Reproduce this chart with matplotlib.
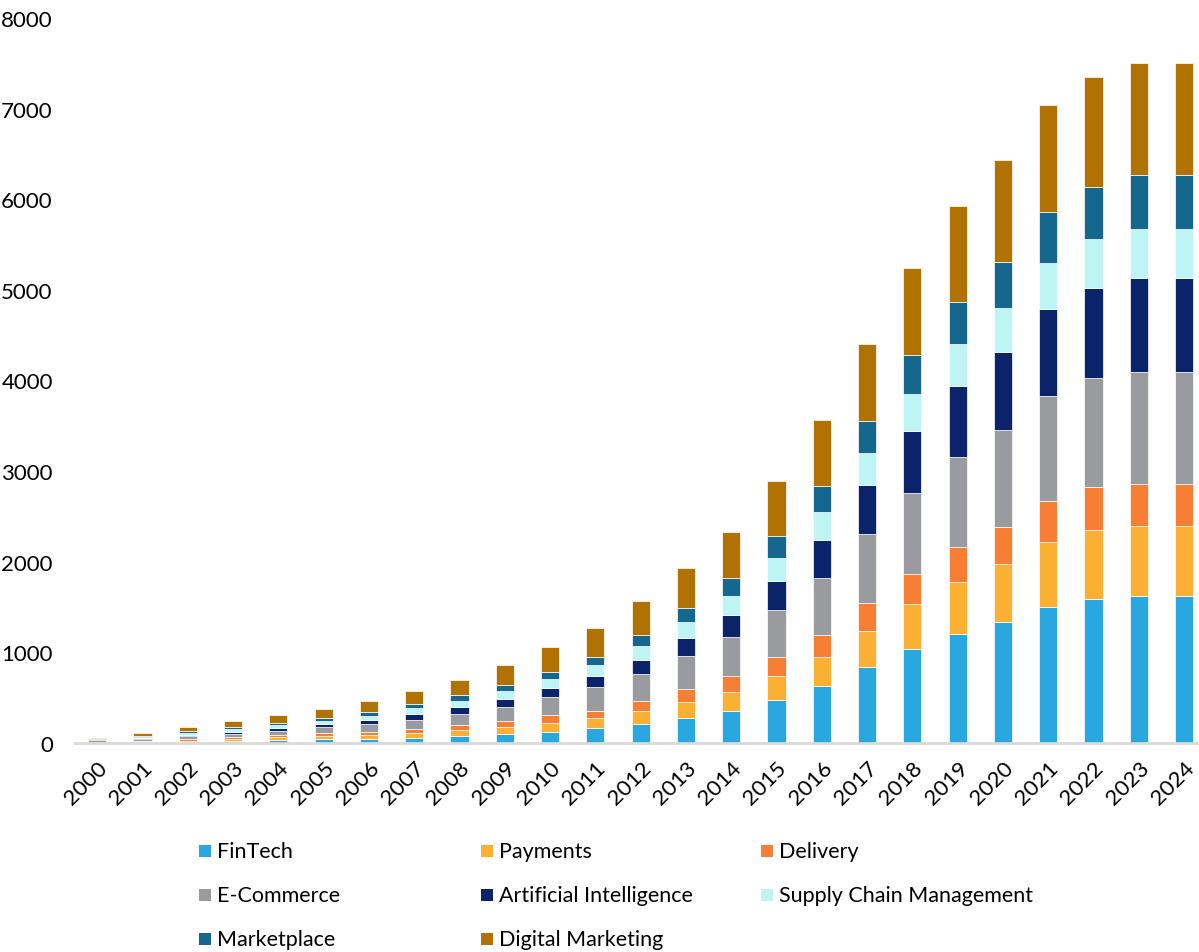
import matplotlib
matplotlib.use("Agg")
import matplotlib.pyplot as plt
from matplotlib.patches import Rectangle
import numpy as np

years = [str(y) for y in range(2000, 2025)]

fintech = [5, 8, 12, 22, 33, 40, 48, 59, 77, 99, 125, 162, 209, 281, 352, 474, 628, 842, 1040, 1208, 1334, 1497, 1593, 1624, 1624]
payments = [5, 10, 15, 22, 29, 33, 37, 51, 67, 81, 99, 118, 143, 169, 209, 265, 320, 399, 492, 568, 640, 720, 756, 771, 771]
delivery = [3, 8, 16, 18, 22, 33, 36, 41, 55, 63, 85, 70, 110, 143, 174, 213, 241, 300, 335, 385, 411, 457, 477, 467, 467]
ecommerce = [15, 22, 33, 40, 48, 66, 89, 107, 125, 158, 203, 268, 301, 367, 431, 514, 628, 762, 893, 995, 1065, 1157, 1198, 1233, 1233]
ai = [4, 11, 14, 22, 29, 33, 40, 62, 70, 88, 95, 118, 158, 198, 245, 320, 427, 542, 680, 781, 863, 954, 999, 1040, 1040]
scm = [6, 11, 20, 33, 37, 37, 52, 63, 73, 81, 103, 121, 146, 173, 209, 257, 304, 355, 416, 467, 482, 512, 533, 538, 538]
marketplace = [8, 11, 18, 18, 22, 37, 40, 51, 59, 67, 78, 92, 130, 159, 205, 237, 293, 352, 426, 467, 517, 558, 584, 593, 593]
digital_marketing = [13, 29, 52, 63, 85, 99, 118, 144, 173, 220, 272, 321, 375, 446, 506, 616, 719, 853, 959, 1050, 1122, 1183, 1207, 1234, 1234]

series_names = ["FinTech", "Payments", "Delivery", "E-Commerce", "Artificial Intelligence",
                "Supply Chain Management", "Marketplace", "Digital Marketing"]
series_values = [fintech, payments, delivery, ecommerce, ai, scm, marketplace, digital_marketing]
colors = ["#29A8E0", "#FBB034", "#F77F35", "#999B9E", "#0A2369", "#BFF4F4", "#15678D", "#B07203"]

W, H = 1199, 953
fig = plt.figure(figsize=(W / 100, H / 100), dpi=100)
plt.rcParams['font.family'] = ['Lato', 'DejaVu Sans']

ax = fig.add_axes([75 / W, 1 - 744 / H, 1 - 75 / W, (744 - 19) / H])
x = np.arange(len(years))
bottom = np.zeros(len(years))
for name, vals, c in zip(series_names, series_values, colors):
    v = np.array(vals, dtype=float)
    ax.bar(x, v, 0.4, bottom=bottom, color=c, edgecolor="white", linewidth=0.5, label=name)
    bottom += v

ax.set_xlim(-0.49, 24.33)
ax.set_ylim(0, 8000)
ax.set_yticks(np.arange(0, 8001, 1000))
ax.set_yticklabels([str(v) for v in range(0, 8001, 1000)], fontsize=16)
ax.set_xticks(x)
ax.set_xticklabels(years, fontsize=16, rotation=45, ha="right", va="top", rotation_mode="anchor")
for s in ["top", "right", "left"]:
    ax.spines[s].set_visible(False)
ax.spines["bottom"].set_color("#D9D9D9")
ax.spines["bottom"].set_linewidth(2)
ax.tick_params(axis="y", length=0, pad=16)
ax.tick_params(axis="x", length=0, pad=10)

# legend
col_x = [199, 481, 761]
row_y = [852, 896, 940]
for i, (name, c) in enumerate(zip(series_names, colors)):
    r, col = divmod(i, 3)
    xs, yc = col_x[col], row_y[r]
    fig.add_artist(Rectangle((xs / W, 1 - (yc + 6) / H), 12 / W, 12 / H,
                             transform=fig.transFigure, facecolor=c, edgecolor="none"))
    fig.text((xs + 18) / W, 1 - yc / H, name, fontsize=15.5, va="center", ha="left")

fig.savefig("out.png", dpi=100)
